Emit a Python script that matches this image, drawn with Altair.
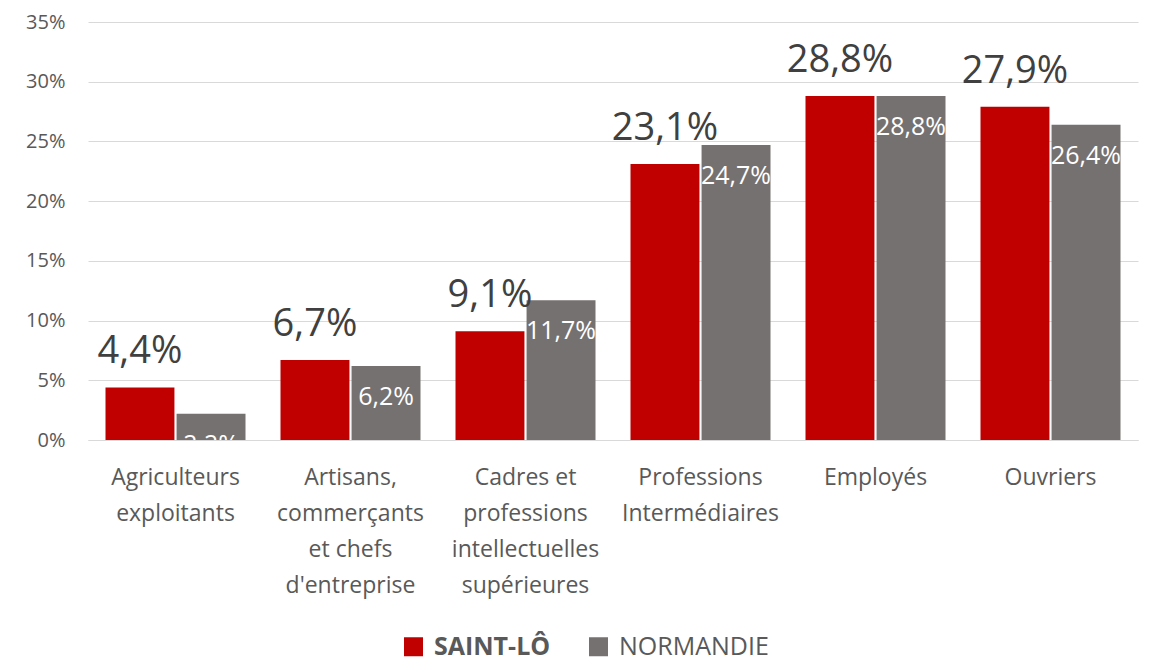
import altair as alt
import pandas as pd

categories = [
    "Agriculteurs|exploitants",
    "Artisans,|commerçants|et chefs|d'entreprise",
    "Cadres et|professions|intellectuelles|supérieures",
    "Professions|Intermédiaires",
    "Employés",
    "Ouvriers",
]
series = ["SAINT-LÔ", "NORMANDIE"]
saint_lo = [4.4, 6.7, 9.1, 23.1, 28.8, 27.9]
normandie = [2.2, 6.2, 11.7, 24.7, 28.8, 26.4]
y_ticks = [0, 5, 10, 15, 20, 25, 30, 35]

rows = []
for c, a, b in zip(categories, saint_lo, normandie):
    rows.append({"cat": c, "series": series[0], "value": a})
    rows.append({"cat": c, "series": series[1], "value": b})
df = pd.DataFrame(rows)

FONT = "Open Sans"

x_enc = alt.X(
    "cat:N",
    sort=categories,
    scale=alt.Scale(paddingInner=0.2, paddingOuter=0.1),
    axis=alt.Axis(
        title=None,
        labelExpr="split(datum.label, '|')",
        labelAngle=0,
        labelFont=FONT,
        labelFontSize=23,
        labelColor="#595959",
        labelLineHeight=36,
        labelPadding=37,
        labelBaseline="middle",
        ticks=False,
        domain=True,
        domainColor="#D9D9D9",
        domainWidth=1,
        labelLimit=300,
        grid=False,
    ),
)
xo_enc = alt.XOffset("series:N", sort=series, scale=alt.Scale(paddingInner=0.03))
y_enc = alt.Y(
    "value:Q",
    scale=alt.Scale(domain=[0, 35], nice=False),
    axis=alt.Axis(
        title=None,
        values=y_ticks,
        labelExpr="datum.value + '%'",
        labelFont=FONT,
        labelFontSize=20,
        labelColor="#595959",
        labelPadding=23,
        ticks=False,
        domain=False,
        grid=True,
        gridColor="#D9D9D9",
        gridWidth=1,
    ),
)

base = alt.Chart(df).transform_calculate(
    label="replace(format(datum.value, '.1f'), '.', ',') + '%'"
)

bars = base.mark_bar().encode(
    x=x_enc,
    xOffset=xo_enc,
    y=y_enc,
    color=alt.Color(
        "series:N",
        sort=series,
        scale=alt.Scale(domain=series, range=["#C00000", "#767171"]),
        legend=alt.Legend(
            title=None,
            orient="none",
            direction="horizontal",
            legendX=313,
            legendY=612,
            symbolType="square",
            symbolSize=361,
            symbolStrokeWidth=0,
            labelFont=FONT,
            labelFontSize=25,
            labelColor="#595959",
            labelFontWeight={"expr": "datum.label == 'SAINT-LÔ' ? 'bold' : 'normal'"},
            labelOffset=8,
            columnPadding=35,
            labelLimit=300,
        ),
    ),
)

lbl_a = base.transform_filter(alt.datum.series == series[0]).mark_text(
    font=FONT, fontSize=38, color="#404040", baseline="alphabetic", dy=-24
).encode(x=x_enc, xOffset=xo_enc, y=y_enc, text="label:N")

lbl_b = base.transform_filter(alt.datum.series == series[1]).mark_text(
    font=FONT, fontSize=25, color="#FFFFFF", baseline="alphabetic", dy=39, clip=True
).encode(x=x_enc, xOffset=xo_enc, y=y_enc, text="label:N")

chart = (
    alt.layer(bars, lbl_a, lbl_b)
    .properties(
        width=1050,
        height=418,
        autosize=alt.AutoSizeParams(type="none"),
        padding={"left": 80, "top": 14, "right": 7, "bottom": 222},
    )
    .configure_view(stroke=None)
)

chart.save("out.html", embed_options={"renderer": "svg", "actions": False})
